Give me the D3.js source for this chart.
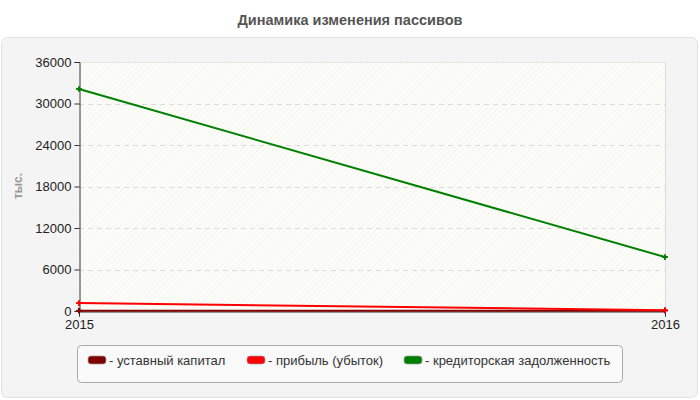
<!DOCTYPE html>
<html>
<head>
<meta charset="utf-8">
<script src="https://cdn.jsdelivr.net/npm/d3@7"></script>
<style>
body{margin:0;background:#fff;}
text{font-family:"Liberation Sans",Arial,sans-serif;}
</style>
</head>
<body>
<svg id="svg1" width="700" height="400"></svg>
<script>
// данные
var years = ["2015","2016"];
var ustavKapital = [50, 50];
var pribyl = [1150, 120];
var kreditor = [32100, 7800];
var seriesNames = ["- уставный капитал","- прибыль (убыток)","- кредиторская задолженность"];
var seriesColors = ["#800000","#ff0000","#008000"];
var yTicks = [0,6000,12000,18000,24000,30000,36000];

var svg = d3.select("#svg1");

// фон панели
svg.append("rect").attr("x",1.5).attr("y",37.5).attr("width",696).attr("height",360)
	.attr("rx",6).attr("fill","#f4f4f4").attr("stroke","#e2e2e2");

svg.append("text").attr("x",350).attr("y",25).attr("text-anchor","middle")
	.attr("font-size",14.5).attr("font-weight","bold").attr("fill","#555")
	.text("Динамика изменения пассивов");

var pLeft = 79, pRight = 665, pTop = 62, pBottom = 311;

// штриховка
var defs = svg.append("defs");
var pat = defs.append("pattern").attr("id","hatch").attr("patternUnits","userSpaceOnUse")
	.attr("width",4).attr("height",4).attr("patternTransform","rotate(45)");
pat.append("rect").attr("width",4).attr("height",4).attr("fill","#fdfdf8");
pat.append("line").attr("x1",0).attr("y1",0).attr("x2",0).attr("y2",4)
	.attr("stroke","#ececec").attr("stroke-width",1);

svg.append("rect").attr("x",pLeft).attr("y",pTop).attr("width",pRight-pLeft).attr("height",pBottom-pTop)
	.attr("fill","url(#hatch)");
svg.append("line").attr("x1",pLeft).attr("x2",pRight).attr("y1",pTop+0.5).attr("y2",pTop+0.5).attr("stroke","#e4e4e4");
svg.append("line").attr("x1",pRight+0.5).attr("x2",pRight+0.5).attr("y1",pTop).attr("y2",pBottom).attr("stroke","#dcdcdc");

var scaleY = d3.scaleLinear().domain([0,36000]).range([pBottom,pTop]);
var scaleX = d3.scalePoint().domain(years).range([pLeft,pRight]);

// сетка
svg.append("g").selectAll("line").data(yTicks.slice(1,-1)).enter().append("line")
	.attr("x1",pLeft).attr("x2",pRight)
	.attr("y1",function(d){return Math.round(scaleY(d))+0.5;})
	.attr("y2",function(d){return Math.round(scaleY(d))+0.5;})
	.attr("stroke","#dcdcdc").attr("stroke-dasharray","5,4");

var axisY = d3.axisLeft(scaleY).tickValues(yTicks).tickSize(5).tickFormat(d3.format("d"));
var gAxisY = svg.append("g").attr("transform","translate("+(pLeft+0.5)+",0)").call(axisY);
gAxisY.select(".domain").attr("stroke","#333");
gAxisY.selectAll(".tick line").attr("stroke","#333");
gAxisY.selectAll("text").attr("font-size",13).attr("fill","#222").attr("font-family","'Liberation Sans',Arial,sans-serif");

var axisX = d3.axisBottom(scaleX).tickSize(5);
var gAxisX = svg.append("g").attr("transform","translate(0,"+(pBottom+0.5)+")").call(axisX);
gAxisX.select(".domain").attr("stroke","#333");
gAxisX.selectAll(".tick line").attr("stroke","#333");
gAxisX.selectAll("text").attr("font-size",13).attr("fill","#222").attr("y",8).attr("dy","0.75em").attr("font-family","'Liberation Sans',Arial,sans-serif");

svg.append("text").attr("transform","translate(22,186) rotate(-90)").attr("text-anchor","middle")
	.attr("font-size",12).attr("font-weight","bold").attr("fill","#999").text("тыс.");

// линии
var allSeries = [ustavKapital, pribyl, kreditor];
var line = d3.line().x(function(d,i){return scaleX(years[i]);}).y(function(d){return scaleY(d);});
allSeries.forEach(function(s,k){
	svg.append("path").datum(s).attr("d",line).attr("fill","none")
		.attr("stroke",seriesColors[k]).attr("stroke-width",2);
	svg.append("g").selectAll("path").data(s).enter().append("path")
		.attr("d",d3.symbol().type(d3.symbolCross).size(18))
		.attr("transform",function(d,i){return "translate("+scaleX(years[i])+","+scaleY(d)+")";})
		.attr("fill",seriesColors[k]);
});

// легенда
svg.append("rect").attr("x",77.5).attr("y",345.5).attr("width",545).attr("height",37)
	.attr("rx",4).attr("fill","#f9f9f9").attr("stroke","#aaa");
var legX = [88, 247, 404];
var gLeg = svg.append("g");
seriesNames.forEach(function(n,k){
	var g = gLeg.append("g").attr("transform","translate("+legX[k]+",356)");
	g.append("rect").attr("width",18).attr("height",8).attr("rx",3)
		.attr("fill",seriesColors[k]).attr("stroke","#999").attr("stroke-width",0.7);
	g.append("text").attr("x",21).attr("y",9).attr("font-size",13).attr("fill","#333").text(n);
});
</script>
</body>
</html>
